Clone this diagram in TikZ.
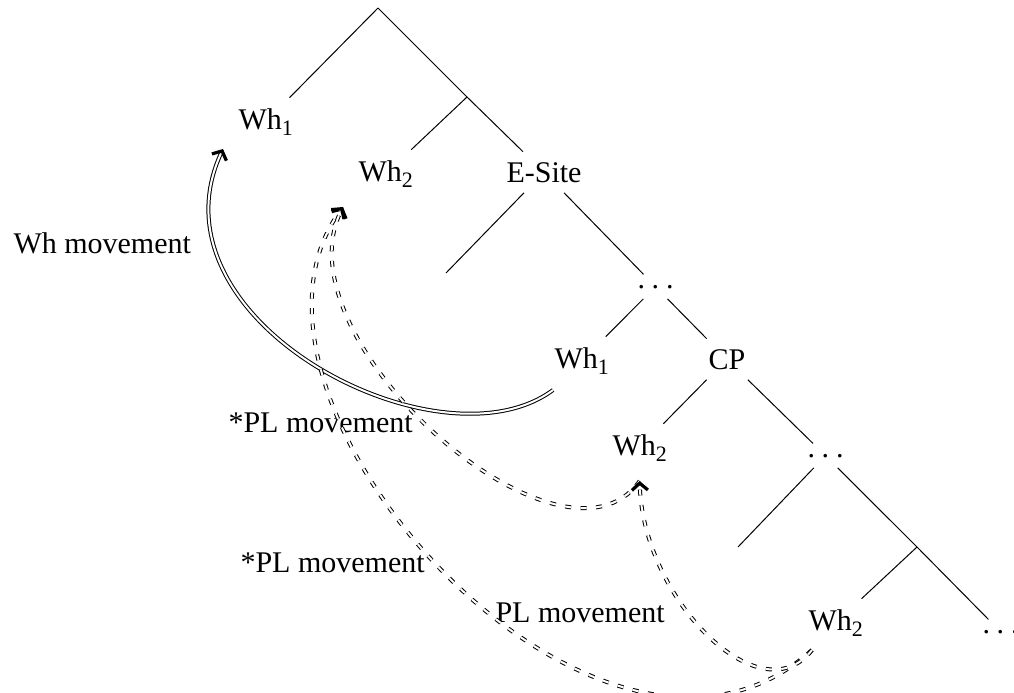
\documentclass[tikz,border=0pt]{standalone}
\usepackage{fontspec}
\setmainfont{Liberation Serif}
\usetikzlibrary{arrows.meta}
\newcommand{\sbs}[1]{\raisebox{-2.6pt}{\fontsize{8.8pt}{9pt}\selectfont #1}}
\newcommand{\dotsx}{.\kern2.7pt.\kern2.7pt.}
\begin{document}
\begin{tikzpicture}[x=0.4pt,y=-0.4pt,
  lbl/.style={font=\fontsize{12pt}{14pt}\selectfont, anchor=base west, inner sep=4pt},
  branch/.style={line width=0.4pt},
  mv/.style={double, -{Straight Barb[length=2.8pt,width=6.4pt,line width=1.3pt]}, line width=0.4pt, double distance=0.8pt},
  mvd/.style={mv, dash pattern=on 2.4pt off 3.8pt}]
\useasboundingbox (0,0) rectangle (1014,693);
% tree
\coordinate (root) at (378,8);
\coordinate (n1) at (467,97);
\coordinate (e1) at (446,273);
\coordinate (e2) at (738,547);
\coordinate (n2) at (917,547);
\node[lbl] (Wh1a) at (228,129) {Wh\sbs{1}};
\node[lbl] (Wh2a) at (348,181) {Wh\sbs{2}};
\node[lbl] (esite) at (496,182) {E-Site};
\node[lbl] (dots1) at (627,288) {\dotsx};
\node[lbl] (Wh1b) at (544,368) {Wh\sbs{1}};
\node[lbl] (cp) at (698,369) {CP};
\node[lbl] (Wh2b) at (602,455) {Wh\sbs{2}};
\node[lbl] (dots2) at (797,457) {\dotsx};
\node[lbl] (Wh2c) at (798,630) {Wh\sbs{2}};
\node[lbl] (dots3) at (972,633) {\dotsx};
\draw[branch] (root) -- (Wh1a);
\draw[branch] (root) -- (n1);
\draw[branch] (n1) -- (Wh2a);
\draw[branch] (n1) -- (esite);
\draw[branch] (esite) -- (e1);
\draw[branch] (esite) -- (dots1);
\draw[branch] (dots1) -- (Wh1b);
\draw[branch] (dots1) -- (cp);
\draw[branch] (cp) -- (Wh2b);
\draw[branch] (cp) -- (dots2);
\draw[branch] (dots2) -- (e2);
\draw[branch] (dots2) -- (n2);
\draw[branch] (n2) -- (Wh2c);
\draw[branch] (n2) -- (dots3);
% labels
\node[lbl] (lwh) at (3,253) {Wh movement};
\node[lbl] (lpl1) at (218,432) {*PL movement};
\node[lbl] (lpl2) at (230,572) {*PL movement};
\node[lbl] (lpl3) at (485,622) {PL movement};
% movements
\draw[mv] ([shift={(9,5)}]Wh1b.south west) .. controls +(-113,84) and +(-80,172) .. ([shift={(-5,3)}]Wh1a.south west);
\draw[mvd] ([shift={(0,9)}]Wh2b.south) .. controls +(-77,110) and +(-67,133) .. ([shift={(-5,9)}]Wh2a.south west);
\draw[mvd] ([shift={(14,3)}]Wh2c.south west) .. controls +(-212,192) and +(-142,193) .. ([shift={(-5,9)}]Wh2a.south west);
\draw[mvd] ([shift={(14,3)}]Wh2c.south west) .. controls +(-52,67) and +(3,118) .. ([shift={(0,9)}]Wh2b.south);
\end{tikzpicture}
\end{document}
